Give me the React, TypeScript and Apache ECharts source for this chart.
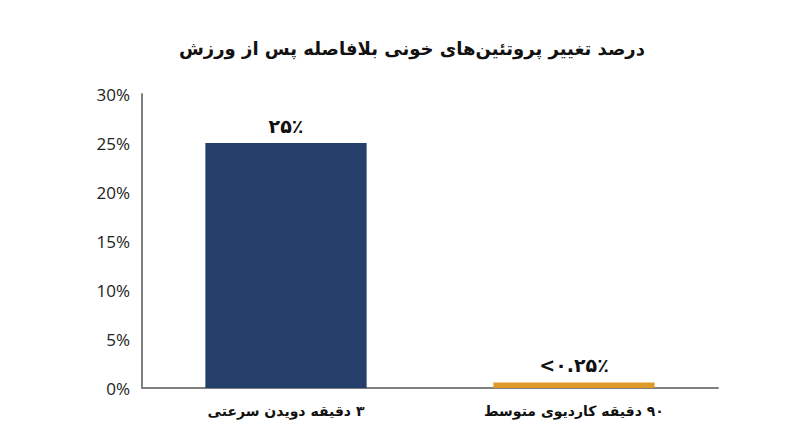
import React, { useEffect, useRef } from "react";
import * as echarts from "echarts";

const title = "درصد تغییر پروتئین‌های خونی بلافاصله پس از ورزش";
const categories = ["۳ دقیقه دویدن سرعتی", "۹۰ دقیقه کاردیوی متوسط"];
const values = [25, 0.55];
const valueLabels = ["۲۵٪", "<۰.۲۵٪"];
const barColors = ["#253f6b", "#e09a2a"];
const yTicks = [0, 5, 10, 15, 20, 25, 30];

const rtl = (s: string) => "\u202B" + s + "\u202C";

export default function App() {
  const ref = useRef<HTMLDivElement>(null);
  useEffect(() => {
    if (!ref.current) return;
    const chart = echarts.init(ref.current, null, { renderer: "svg" });
    chart.setOption({
      animation: false,
      backgroundColor: "#ffffff",
      title: {
        text: title,
        left: 407,
        top: 34,
        textAlign: "center",
        textStyle: { fontFamily: "DejaVu Sans", fontSize: 18, fontWeight: "bold", color: "#111" },
      },
      grid: { left: 142, right: 82, top: 94, bottom: 59 },
      xAxis: {
        type: "category",
        data: categories,
        axisLine: { lineStyle: { color: "#7f7f7f", width: 2 } },
        axisTick: { show: false },
        axisLabel: {
          margin: 16,
          fontFamily: "DejaVu Sans",
          fontSize: 14,
          fontWeight: "bold",
          color: "#111",
          formatter: (v: string) => rtl(v),
        },
      },
      yAxis: {
        type: "value",
        min: yTicks[0],
        max: yTicks[yTicks.length - 1],
        interval: 5,
        axisLine: { show: true, lineStyle: { color: "#7f7f7f", width: 2 } },
        axisTick: { show: false },
        splitLine: { show: false },
        axisLabel: {
          margin: 12,
          fontFamily: "Open Sans",
          fontSize: 17,
          color: "#222",
          formatter: (v: number) => `${v}%`,
        },
      },
      series: [
        {
          type: "bar",
          barWidth: "56%",
          data: values.map((v, i) => ({
            value: v,
            itemStyle: { color: barColors[i] },
            label: { formatter: valueLabels[i] },
          })),
          label: {
            show: true,
            position: "top",
            distance: 8,
            fontFamily: "DejaVu Sans",
            fontSize: 19,
            fontWeight: "bold",
            color: "#111",
          },
        },
      ],
    });
    return () => chart.dispose();
  }, []);
  return <div ref={ref} style={{ width: 800, height: 447, margin: -8 }} />;
}
